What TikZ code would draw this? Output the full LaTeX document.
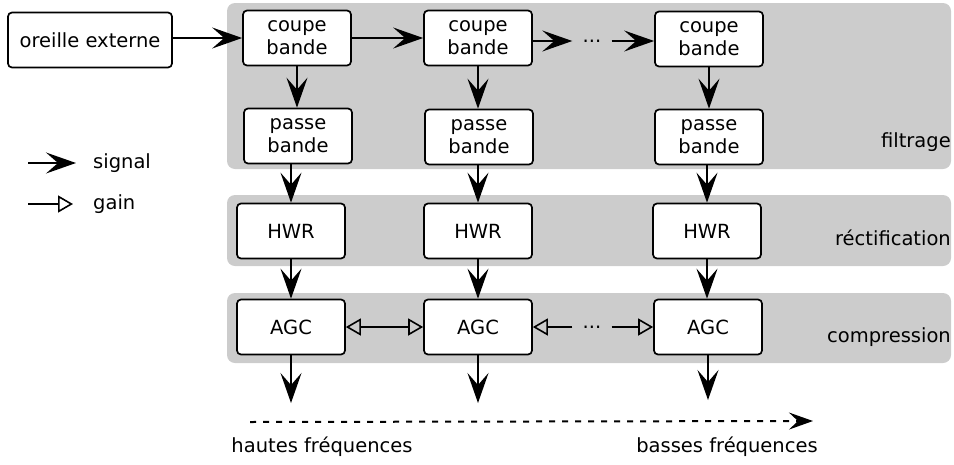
\documentclass[tikz,border=0pt]{standalone}
\usepackage{fontspec}
\setmainfont{DejaVu Sans}
\usetikzlibrary{arrows.meta}
\definecolor{bandgray}{HTML}{CCCCCC}
\tikzset{
  blk/.style={draw, line width=1.7pt, rounded corners=4pt, fill=white, minimum width=108pt, minimum height=55pt, align=center, inner sep=0pt, font=\fontsize{19.5}{23}\selectfont},
  band/.style={fill=bandgray, rounded corners=8pt},
  lbl/.style={inner sep=0pt, font=\fontsize{19.5}{23}\selectfont},
  sig/.style={line width=1.8pt, -{Stealth[length=30pt, width=21pt, inset=12pt]}},
  gn/.style={line width=1.8pt, -{Triangle[open, length=15pt, width=17pt, line width=1.6pt]}},
  gnboth/.style={line width=1.8pt, {Triangle[open, length=15pt, width=17pt, line width=1.6pt]}-{Triangle[open, length=15pt, width=17pt, line width=1.6pt]}},
  dots/.style={inner sep=0pt, minimum width=39pt, font=\fontsize{19.5}{23}\selectfont},
}
\begin{document}
\begin{tikzpicture}[x=1pt, y=-1pt]
\useasboundingbox (0,0) rectangle (954,464);
% bands
\fill[band] (227,3) rectangle (951,169);
\fill[band] (227,195) rectangle (951,266);
\fill[band] (227,293) rectangle (951,363);
% band labels
\node[lbl, anchor=east] (lf) at (951,142) {filtrage};
\node[lbl, anchor=east] (lr) at (951,238) {réctification};
\node[lbl, anchor=east] (lc) at (951,337) {compression};
% boxes
\node[blk, minimum width=164pt] (oe) at (90,40) {oreille externe};
\node[blk] (c1) at (297,38) {coupe\\bande};
\node[blk] (c2) at (478,38) {coupe\\bande};
\node[blk] (c3) at (709,39) {coupe\\bande};
\node[blk] (p1) at (298,136) {passe\\bande};
\node[blk] (p2) at (479,137) {passe\\bande};
\node[blk] (p3) at (709,137) {passe\\bande};
\node[blk] (h1) at (291,231) {HWR};
\node[blk] (h2) at (478,231) {HWR};
\node[blk] (h3) at (707,231) {HWR};
\node[blk] (a1) at (291,327) {AGC};
\node[blk] (a2) at (478,327) {AGC};
\node[blk] (a3) at (708,327) {AGC};
% dots
\node[dots] (d1) at (592,41) {...};
\node[dots] (d2) at (592,327) {...};
% horizontal signal arrows
\draw[sig] (oe.east |- c1) -- (c1.west);
\draw[sig] (c1.east) -- (c2.west |- c1);
\draw[sig] (c2.east |- d1) -- (d1.west);
\draw[sig] (d1.east) -- (c3.west |- d1);
% vertical signal arrows
\foreach \i in {1,2,3}{
  \draw[sig] (c\i.south) -- (c\i.south |- p\i.north);
  \draw[sig] (h\i.north |- p\i.south) -- (h\i.north);
  \draw[sig] (h\i.south) -- (a\i.north -| h\i.south);
}
% outputs
\coordinate (o1) at (291,403);
\coordinate (o2) at (478,403);
\coordinate (o3) at (708,400);
\draw[sig] (a1.south) -- (o1);
\draw[sig] (a2.south) -- (o2);
\draw[sig] (a3.south) -- (o3);
% gain arrows
\draw[gnboth] (a1.east) -- (a2.west |- a1.east);
\draw[gn] (d2.west) -- (a2.east |- d2);
\draw[gn] (d2.east) -- (a3.west |- d2);
% legend
\coordinate (l1) at (28,163);
\coordinate (l2) at (76,163);
\coordinate (l3) at (28,204);
\coordinate (l4) at (73,204);
\draw[sig] (l1) -- (l2);
\draw[gn] (l3) -- (l4);
\node[lbl, anchor=west] (ls) at (93,163.5) {signal};
\node[lbl, anchor=west] (lg) at (93,204) {gain};
% frequency axis
\coordinate (f1) at (250,422);
\coordinate (f2) at (813,421);
\draw[line width=2pt, dash pattern=on 6pt off 7pt, -{Stealth[length=24pt, width=17pt, inset=9pt]}] (f1) -- (f2);
\node[lbl] (hf) at (322,447) {hautes fréquences};
\node[lbl] (bf) at (727,447) {basses fréquences};
\end{tikzpicture}
\end{document}
